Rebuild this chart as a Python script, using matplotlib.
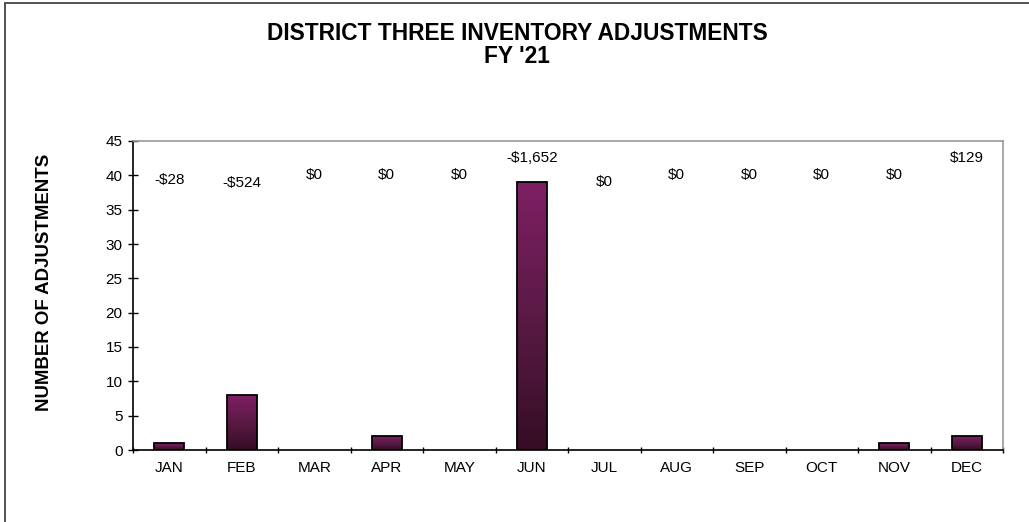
import numpy as np
import matplotlib
matplotlib.use("Agg")
import matplotlib.pyplot as plt
from matplotlib.colors import LinearSegmentedColormap
from matplotlib.patches import Rectangle

plt.rcParams['font.family'] = ['Liberation Sans', 'DejaVu Sans']

months = ['JAN', 'FEB', 'MAR', 'APR', 'MAY', 'JUN', 'JUL', 'AUG', 'SEP', 'OCT', 'NOV', 'DEC']
counts = [1, 8, 0, 2, 0, 39, 0, 0, 0, 0, 1, 2]
dollar_labels = ['-$28', '-$524', '$0', '$0', '$0', '-$1,652', '$0', '$0', '$0', '$0', '$0', '$129']
label_heights = [39.3, 38.9, 40.0, 40.0, 40.0, 42.5, 39.0, 40.0, 40.0, 40.0, 40.0, 42.5]

fig = plt.figure(figsize=(10.29, 5.22), dpi=100)
# outer chart frame (right/bottom edges fall outside the picture)
fig.patches.append(Rectangle((5 / 1029, -0.1), 1.2, 1 - 3 / 522 + 0.1,
                             transform=fig.transFigure, fill=False,
                             edgecolor='#444444', linewidth=1.3))

ax = fig.add_axes([133 / 1029, 1 - 450 / 522, (1003 - 133) / 1029, (450 - 141) / 522])

x = np.arange(len(months))
cmap = LinearSegmentedColormap.from_list('plum', ['#360d24', '#5a1a45', '#7e1f63'])
grad = np.linspace(0, 1, 256).reshape(-1, 1)
for i, h in enumerate(counts):
    if h <= 0:
        continue
    b = ax.bar(x[i], h, width=0.41, color='none', edgecolor='black', linewidth=1.3, zorder=3)[0]
    x0 = b.get_x()
    im = ax.imshow(grad, cmap=cmap, aspect='auto', origin='lower',
                   extent=[x0, x0 + b.get_width(), 0, h], zorder=2)
    im.set_clip_path(b)

for i, (lab, yh) in enumerate(zip(dollar_labels, label_heights)):
    ax.text(x[i], yh, lab, ha='center', va='center', fontsize=11, color='black')

ax.set_xlim(-0.5, len(months) - 0.5)
ax.set_ylim(0, 45)
ax.set_yticks(range(0, 46, 5))
ax.set_xticks(x)
ax.set_xticklabels(months)
ax.set_xticks(np.arange(-0.5, len(months)), minor=True)
ax.tick_params(axis='x', which='major', length=0, pad=8, labelsize=11)
ax.tick_params(axis='x', which='minor', length=4, direction='inout', width=1)
ax.tick_params(axis='y', length=7, direction='inout', width=1, labelsize=11, pad=4)

for s in ['left', 'bottom']:
    ax.spines[s].set_color('black')
    ax.spines[s].set_linewidth(1.2)
for s in ['top', 'right']:
    ax.spines[s].set_color('#999999')
    ax.spines[s].set_linewidth(1.2)

fig.text(45 / 1029, 1 - 282 / 522, 'NUMBER OF ADJUSTMENTS', rotation=90,
         ha='center', va='center', fontsize=13.4, fontweight='bold')
fig.text(517 / 1029, 1 - 45 / 522, "DISTRICT THREE INVENTORY ADJUSTMENTS\nFY '21",
         ha='center', va='center', fontsize=16.4, fontweight='bold', linespacing=1.05)

fig.savefig('out.png', dpi=100)
